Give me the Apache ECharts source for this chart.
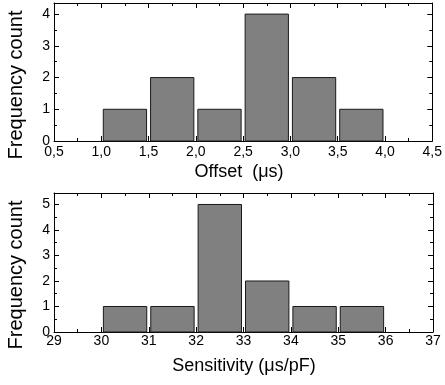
<!DOCTYPE html>
<html><head><meta charset="utf-8">
<script src="https://cdn.jsdelivr.net/npm/echarts@6/dist/echarts.min.js"></script>
<style>html,body{margin:0;padding:0;background:#fff}#c{width:445px;height:385px}</style>
</head><body><div id="c"></div>
<script>
// Top histogram: Offset (µs)
const offsetBinStart = [1.0, 1.5, 2.0, 2.5, 3.0, 3.5];
const offsetBinEnd   = [1.5, 2.0, 2.5, 3.0, 3.5, 4.0];
const offsetCounts   = [1, 2, 1, 4, 2, 1];
// Bottom histogram: Sensitivity (µs/pF)
const sensBinStart = [30, 31, 32, 33, 34, 35];
const sensBinEnd   = [31, 32, 33, 34, 35, 36];
const sensCounts   = [1, 1, 5, 2, 1, 1];
// Axis texts
const yTitle = 'Frequency count';
const offsetTitle = 'Offset  (\u03bcs)';
const sensTitle = 'Sensitivity (\u03bcs/pF)';

const FONT = '"Liberation Sans", Arial, sans-serif';
const chart = echarts.init(document.getElementById('c'), null, {renderer: 'canvas'});

function rows(s, e, c) { return s.map((v, i) => [v, e[i], c[i]]); }

function renderBar(params, api) {
  const a = api.coord([api.value(0), api.value(2)]);
  const b = api.coord([api.value(1), 0]);
  const gap = 2;
  return {
    type: 'rect',
    shape: {x: a[0] + gap, y: a[1], width: b[0] - a[0] - 2 * gap, height: b[1] - a[1]},
    style: {fill: '#808080', stroke: '#1a1a1a', lineWidth: 1}
  };
}

const line = {show: true, onZero: false, lineStyle: {color: '#000', width: 1}};
function xAx(grid, min, max, interval, fmt, pos, margin) {
  return {
    type: 'value', gridIndex: grid, min, max, interval, position: pos,
    axisLine: line,
    axisTick: {show: true, inside: true, length: 5, lineStyle: {color: '#000'}},
    minorTick: {show: true, splitNumber: 2, length: 3, lineStyle: {color: '#000'}},
    axisLabel: {show: pos === 'bottom', formatter: fmt, color: '#000', fontSize: 14, fontFamily: 'Liberation Sans', margin: margin},
    splitLine: {show: false}
  };
}
function yAx(grid, max, pos) {
  return {
    type: 'value', gridIndex: grid, min: 0, max, interval: 1, position: pos,
    axisLine: line,
    axisTick: {show: true, inside: true, length: 5, lineStyle: {color: '#000'}},
    minorTick: {show: true, splitNumber: 2, length: 3, lineStyle: {color: '#000'}},
    axisLabel: {show: pos === 'left', color: '#000', fontSize: 14, fontFamily: 'Liberation Sans', margin: 4,
      formatter: v => (Math.abs(v - Math.round(v)) < 1e-6 ? String(Math.round(v)) : '')},
    splitLine: {show: false}
  };
}
const commaFmt = v => v.toFixed(1).replace('.', ',');
const intFmt = v => String(Math.round(v));

chart.setOption({
  animation: false,
  backgroundColor: '#fff',
  grid: [
    {left: 54, right: 12, top: 3, height: 138},
    {left: 54, right: 12, top: 193, height: 139}
  ],
  xAxis: [
    xAx(0, 0.5, 4.5, 0.5, commaFmt, 'bottom', 4),
    xAx(0, 0.5, 4.5, 0.5, commaFmt, 'top', 4),
    xAx(1, 29, 37, 1, intFmt, 'bottom', 2),
    xAx(1, 29, 37, 1, intFmt, 'top', 2)
  ],
  yAxis: [
    yAx(0, 4.35, 'left'),
    yAx(0, 4.35, 'right'),
    yAx(1, 5.45, 'left'),
    yAx(1, 5.45, 'right')
  ],
  series: [
    {type: 'custom', xAxisIndex: 0, yAxisIndex: 0, renderItem: renderBar,
      encode: {x: [0, 1], y: 2}, data: rows(offsetBinStart, offsetBinEnd, offsetCounts)},
    {type: 'custom', xAxisIndex: 2, yAxisIndex: 2, renderItem: renderBar,
      encode: {x: [0, 1], y: 2}, data: rows(sensBinStart, sensBinEnd, sensCounts)}
  ],
  graphic: [
    {type: 'text', x: 16, y: 85, rotation: Math.PI / 2,
      style: {text: yTitle, font: '20px ' + FONT, fill: '#000', align: 'center', verticalAlign: 'middle'}},
    {type: 'text', x: 16, y: 275, rotation: Math.PI / 2,
      style: {text: yTitle, font: '20px ' + FONT, fill: '#000', align: 'center', verticalAlign: 'middle'}},
    {type: 'text', x: 239, y: 172,
      style: {text: offsetTitle, font: '18px ' + FONT, fill: '#000', align: 'center', verticalAlign: 'middle'}},
    {type: 'text', x: 244, y: 366,
      style: {text: sensTitle, font: '18px ' + FONT, fill: '#000', align: 'center', verticalAlign: 'middle'}}
  ]
});
</script></body></html>
